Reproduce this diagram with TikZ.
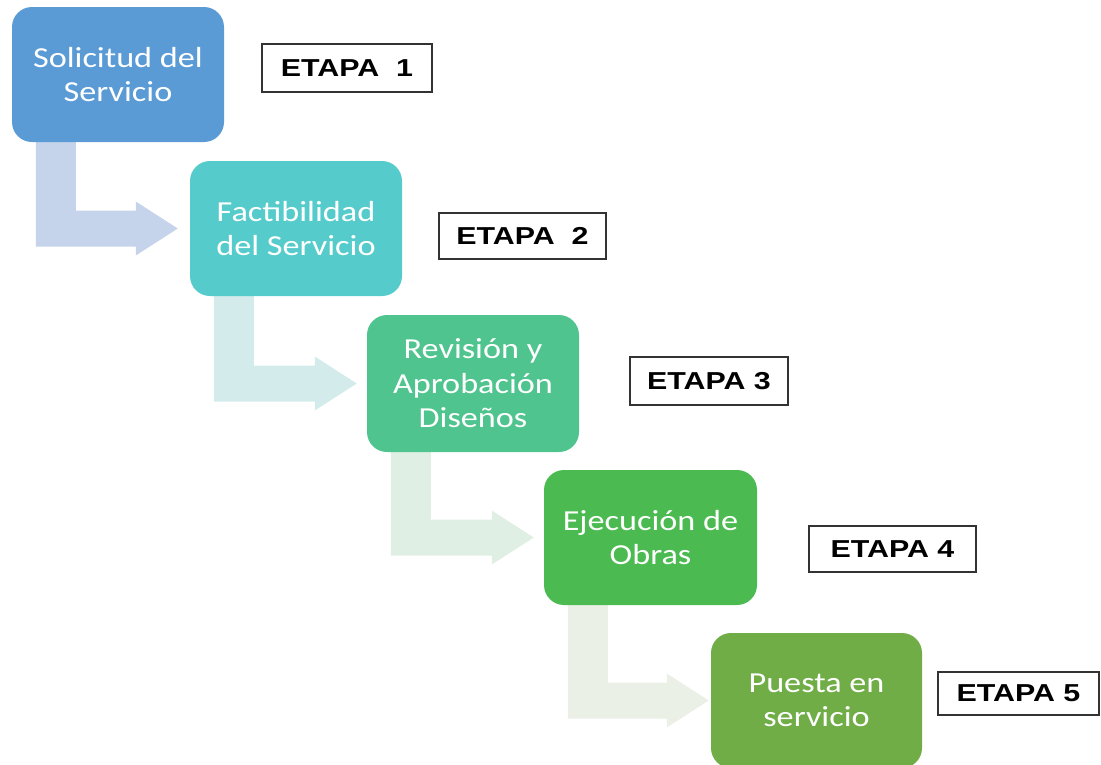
\documentclass[tikz,border=0pt]{standalone}
\usepackage{fontspec}
\usetikzlibrary{calc,backgrounds}
\newfontfamily\boxfont[FakeStretch=1.18]{Carlito}
\newfontfamily\etapafont[FakeStretch=1.24]{Liberation Sans Bold}
\definecolor{cA}{HTML}{5B9BD5}
\definecolor{cB}{HTML}{56CBCC}
\definecolor{cC}{HTML}{50C48E}
\definecolor{cD}{HTML}{4BBB51}
\definecolor{cE}{HTML}{70AD47}
\definecolor{aA}{HTML}{C5D4EA}
\definecolor{aB}{HTML}{D3ECEB}
\definecolor{aC}{HTML}{E0EFE4}
\definecolor{aD}{HTML}{EAF0E6}
\tikzset{
  stepbox/.style={rounded corners=20pt, inner sep=0pt, minimum width=212pt,
    minimum height=135pt, text=white, align=center,
    font=\boxfont\fontsize{29}{34.5}\selectfont},
  etapabox/.style={draw=black!80, line width=1.3pt, fill=white, inner sep=0pt,
    font=\etapafont\fontsize{24.5}{28}\selectfont}
}
\newcommand\steparrow[4]{%
  \fill[#4] let \p1=(#1.south west), \p2=(#2.west) in
    (\x1+24,\y1) -- (\x1+64,\y1) -- (\x1+64,\y2+18)
    -- (\x2-#3-42,\y2+18) -- (\x2-#3-42,\y2+27) -- (\x2-#3,\y2)
    -- (\x2-#3-42,\y2-27) -- (\x2-#3-42,\y2-18) -- (\x1+24,\y2-18) -- cycle;}
\begin{document}
\begin{tikzpicture}[x=1pt,y=-1pt]
\useasboundingbox (0,0) rectangle (1101,764);
\node[stepbox, fill=cA] (b1) at (118,74.5) {Solicitud del\\Servicio};
\node[stepbox, fill=cB] (b2) at (296,228.5) {Factibilidad\\del Servicio};
\node[stepbox, fill=cC, minimum height=137pt] (b3) at (473,383.5) {Revisión y\\Aprobación\\Diseños};
\node[stepbox, fill=cD, minimum width=213pt] (b4) at (650.5,537.5) {Ejecución de\\Obras};
\node[stepbox, fill=cE, minimum width=211pt] (b5) at (816.5,700.5) {Puesta en\\servicio};
\begin{scope}[on background layer]
\steparrow{b1}{b2}{12}{aA}
\steparrow{b2}{b3}{10}{aB}
\steparrow{b3}{b4}{10}{aC}
\steparrow{b4}{b5}{2}{aD}
\end{scope}
\node[etapabox, minimum width=170pt, minimum height=48pt] (e1) at (347,68) {ETAPA\ \ 1};
\node[etapabox, minimum width=167pt, minimum height=46pt] (e2) at (522.5,236) {ETAPA\ \ 2};
\node[etapabox, minimum width=158pt, minimum height=48pt] (e3) at (709,381) {ETAPA 3};
\node[etapabox, minimum width=167pt, minimum height=46pt] (e4) at (892.5,549) {ETAPA 4};
\node[etapabox, minimum width=161pt, minimum height=43pt] (e5) at (1018.5,693.5) {ETAPA 5};
\end{tikzpicture}
\end{document}
